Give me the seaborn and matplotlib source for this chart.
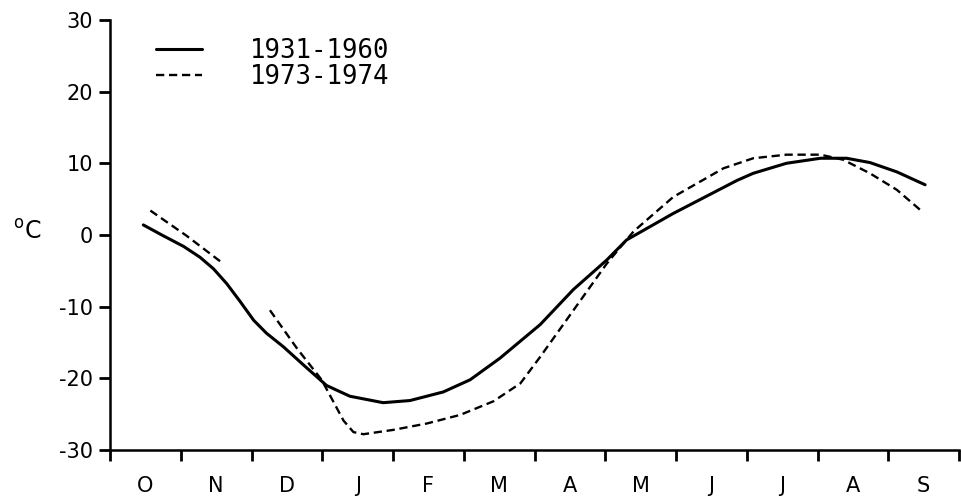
import numpy as np
import pandas as pd
import matplotlib
matplotlib.use("Agg")
import matplotlib.pyplot as plt
import seaborn as sns

# month labels (Oct .. Sep), x in months from 1 Oct
months = ['O', 'N', 'D', 'J', 'F', 'M', 'A', 'M', 'J', 'J', 'A', 'S']

# 1931-1960 mean temperature
normal_x = [0.47, 0.75, 1.04, 1.27, 1.46, 1.65, 1.84, 2.03, 2.21, 2.45, 2.73, 3.06,
            3.39, 3.86, 4.24, 4.71, 5.09, 5.51, 6.08, 6.55, 7.02, 7.3, 7.96, 8.43,
            8.86, 9.09, 9.56, 10.04, 10.41, 10.74, 11.12, 11.52]
normal_y = [1.4, -0.1, -1.6, -3.1, -4.7, -6.8, -9.3, -11.9, -13.7, -15.6, -18.1, -21.0,
            -22.5, -23.4, -23.1, -21.9, -20.2, -17.2, -12.5, -7.6, -3.5, -0.7, 3.0, 5.4,
            7.6, 8.6, 10.0, 10.7, 10.7, 10.1, 8.8, 7.0]

# 1973-1974, drawn in two pieces (gap in late Nov)
y73_part1_x = [0.57, 1.08, 1.6]
y73_part1_y = [3.4, -0.1, -4.0]
y73_part2_x = [2.26, 2.64, 2.99, 3.30, 3.44, 3.58, 4.0, 4.48, 4.95, 5.42, 5.8, 6.08,
               6.55, 7.02, 7.4, 7.96, 8.67, 9.09, 9.56, 10.04, 10.36, 10.74, 11.12, 11.45]
y73_part2_y = [-10.5, -15.8, -20.2, -25.9, -27.5, -27.8, -27.2, -26.3, -25.1, -23.2, -20.7, -17.0,
               -10.5, -4.0, 0.5, 5.3, 9.3, 10.7, 11.2, 11.2, 10.5, 8.6, 6.3, 3.5]

sns.set_style("ticks")
plt.rcParams['font.family'] = ['DejaVu Sans']
plt.rcParams['axes.unicode_minus'] = False
plt.rcParams['text.color'] = 'black'
plt.rcParams['xtick.color'] = 'black'
plt.rcParams['ytick.color'] = 'black'
plt.rcParams['axes.edgecolor'] = 'black'
plt.rcParams['axes.labelcolor'] = 'black'

fig = plt.figure(figsize=(9.61, 4.98), dpi=100)
ax = fig.add_axes([0.1145, 0.0964, 0.8835, 0.8636])

dash = (0, (3.5, 2))
sns.lineplot(x=normal_x, y=normal_y, ax=ax, color='black', lw=2.2,
             sort=False, label='1931-1960')
sns.lineplot(x=y73_part1_x, y=y73_part1_y, ax=ax, color='black', lw=1.7,
             linestyle=dash, sort=False, label='1973-1974')
sns.lineplot(x=y73_part2_x, y=y73_part2_y, ax=ax, color='black', lw=1.7,
             linestyle=dash, sort=False)

ax.set_xlim(0, 12)
ax.set_ylim(-30, 30)
ax.set_yticks([-30, -20, -10, 0, 10, 20, 30])
ax.set_xticks(np.arange(0, 13))
ax.set_xticklabels([])
ax.set_xticks(np.arange(12) + 0.5, minor=True)
ax.set_xticklabels(months, minor=True)

ax.tick_params(axis='y', direction='out', length=8, width=2, labelsize=15, pad=4)
ax.tick_params(axis='x', which='major', direction='out', length=8, width=2)
ax.tick_params(axis='x', which='minor', length=0, labelsize=15, pad=19)

for s in ['top', 'right']:
    ax.spines[s].set_visible(False)
for s in ['left', 'bottom']:
    ax.spines[s].set_linewidth(1.8)

ax.set_ylabel('$^{\\mathrm{o}}$C', rotation=0, fontsize=17)
ax.yaxis.set_label_coords(-0.098, 0.48)

leg = ax.legend(loc='upper left', frameon=False,
                prop={'family': 'DejaVu Sans Mono', 'size': 18.5},
                handlelength=1.8, handletextpad=1.85, labelspacing=0.0,
                borderpad=0.2, bbox_to_anchor=(0.033, 1.0))

fig.savefig('out.png', dpi=100)
